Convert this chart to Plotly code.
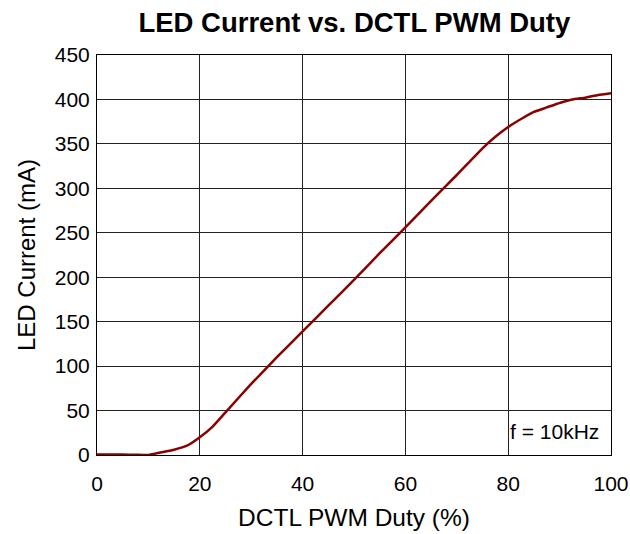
import plotly.graph_objects as go

duty = [0, 5, 7.5, 10, 12.5, 15, 17.5, 20, 22.5, 25, 30, 35, 40, 45, 50, 55, 60, 65, 70, 75,
        77.5, 80, 82.5, 85, 87.5, 90, 92.5, 95, 97.5, 100]
current = [0.5, 0.5, 0.3, 0, 3, 6, 10.5, 20, 32, 48, 80, 110, 139, 168, 197, 227, 256, 286, 315, 345,
           358, 369, 378, 386, 391, 396, 400, 402, 405, 407]

x_ticks = [0, 20, 40, 60, 80, 100]
y_ticks = [0, 50, 100, 150, 200, 250, 300, 350, 400, 450]

FONT = "Liberation Sans, Arial, sans-serif"

fig = go.Figure()
fig.add_trace(go.Scatter(x=duty, y=current, mode="lines",
                         line=dict(color="#8B0000", width=2.5, shape="spline", smoothing=0.4),
                         showlegend=False))

fig.update_layout(
    width=630, height=534,
    margin=dict(l=97, r=19, t=55, b=79, autoexpand=False),
    paper_bgcolor="white", plot_bgcolor="white",
    font=dict(family=FONT, color="black"),
    title=dict(text="<b>LED Current vs. DCTL PWM Duty</b>", x=0.5625, xanchor="center",
               y=0.958, yanchor="middle", font=dict(size=27.5, family=FONT, color="black")),
    xaxis=dict(range=[0, 100], tickvals=x_ticks, ticktext=[str(v) for v in x_ticks],
               showgrid=True, gridcolor="#222", gridwidth=1, automargin=False,
               showline=True, linecolor="black", linewidth=1, mirror=True,
               zeroline=False, ticks="", tickfont=dict(size=21), ticklabelstandoff=10,
               title=dict(text="DCTL PWM Duty (%)", font=dict(size=24.5), standoff=14)),
    yaxis=dict(range=[0, 450], tickvals=y_ticks, ticktext=[str(v) for v in y_ticks],
               showgrid=True, gridcolor="#222", gridwidth=1, automargin=False,
               showline=True, linecolor="black", linewidth=1, mirror=True,
               zeroline=False, ticks="", tickfont=dict(size=21), ticklabelstandoff=2,
               title=dict(text="LED Current (mA)", font=dict(size=24), standoff=12)),
    annotations=[dict(x=98, y=26, xref="x", yref="y", text="f = 10kHz", showarrow=False,
                      xanchor="right", yanchor="middle", font=dict(size=21, family=FONT))],
)

fig.write_html("out.html", config={"displayModeBar": False},
               post_script="document.body.style.margin='0';")
